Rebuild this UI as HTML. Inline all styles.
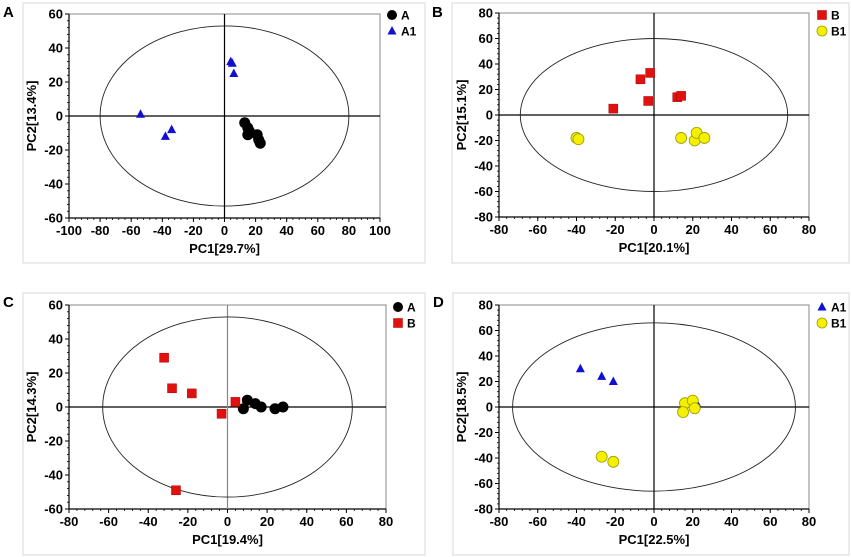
<!DOCTYPE html>
<html><head><meta charset="utf-8"><style>
body{margin:0;background:#fff;}
svg{display:block;font-family:"Liberation Sans",sans-serif;}
</style></head><body>
<svg id="s" width="851" height="557" viewBox="0 0 851 557"></svg>
<script>
const aCirc=[[13,-4],[15,-7],[16,-9],[15,-11],[21,-11],[22,-14],[23,-16]];
const aTri=[[4,32],[5,31],[6,25],[-54,1],[-38,-12],[-34,-8]];
const bSq=[[-21,5],[-7,28],[-2,33],[-3,11],[12,14],[14,15]];
const bYel=[[-40,-18],[-39,-19],[14,-18],[21,-20],[22,-14],[26,-18]];
const cCirc=[[8,-1],[10,4],[14,2],[17,0],[24,-1],[28,0]];
const cSq=[[-32,29],[-28,11],[-18,8],[-3,-4],[4,3],[-26,-49]];
const dTri=[[-38,30],[-27,24],[-21,20],[20,5],[22,3]];
const dYel=[[16,3],[20,5],[15,-4],[21,-1],[-27,-39],[-21,-43]];
const xTicksA=[-100,-80,-60,-40,-20,0,20,40,60,80,100];
const xTicks80=[-80,-60,-40,-20,0,20,40,60,80];
const yTicks60=[-60,-40,-20,0,20,40,60];
const yTicks80=[-80,-60,-40,-20,0,20,40,60,80];
const NS="http://www.w3.org/2000/svg";
const svg=document.getElementById('s');
function mk(p,t,a){const e=document.createElementNS(NS,t);for(const k in a)e.setAttribute(k,a[k]);p.appendChild(e);return e;}
const panels=[
 {id:'a',L:'A',frame:[23,3,402,260],pl:[69,380,14,218],x:[-100,100],y:[-60,60],xt:xTicksA,yt:yTicks60,ex:80,ey:53,xl:'PC1[29.7%]',yl:'PC2[13.4%]',vgray:false,
  series:[{d:aCirc,m:'circle',c:'#000',n:'A'},{d:aTri,m:'tri',c:'#1010d0',n:'A1'}],lg:[392,15]},
 {id:'b',L:'B',frame:[452,3,397,260],pl:[499,809,13,217],x:[-80,80],y:[-80,80],xt:xTicks80,yt:yTicks80,ex:69,ey:60,xl:'PC1[20.1%]',yl:'PC2[15.1%]',vgray:false,
  series:[{d:bSq,m:'sq',c:'#e31010',n:'B'},{d:bYel,m:'ycirc',c:'#f5f000',n:'B1'}],lg:[822,15]},
 {id:'c',L:'C',frame:[23,293,402,262],pl:[69,386,305,509],x:[-80,80],y:[-60,60],xt:xTicks80,yt:yTicks60,ex:63,ey:53,xl:'PC1[19.4%]',yl:'PC2[14.3%]',vgray:true,
  series:[{d:cCirc,m:'circle',c:'#000',n:'A'},{d:cSq,m:'sq',c:'#e31010',n:'B'}],lg:[398,307]},
 {id:'d',L:'D',frame:[453,293,396,262],pl:[499,809,305,509],x:[-80,80],y:[-80,80],xt:xTicks80,yt:yTicks80,ex:73,ey:66,xl:'PC1[22.5%]',yl:'PC2[18.5%]',vgray:false,
  series:[{d:dTri,m:'tri',c:'#1010d0',n:'A1'},{d:dYel,m:'ycirc',c:'#f5f000',n:'B1'}],lg:[822,307]}
];
function marker(g,m,cx,cy,c,r){
 if(m==='circle')return mk(g,'circle',{cx,cy,r:r||5.5,fill:c});
 if(m==='ycirc')return mk(g,'circle',{cx,cy,r:r||5.5,fill:c,stroke:'#9a9a00','stroke-width':0.8});
 if(m==='sq')return mk(g,'rect',{x:cx-4.5,y:cy-4.5,width:9,height:9,fill:c,stroke:'#a00','stroke-width':0.5});
 return mk(g,'polygon',{points:`${cx},${cy-5} ${cx-4.5},${cy+3.5} ${cx+4.5},${cy+3.5}`,fill:c});
}
panels.forEach(P=>{
 const g=mk(svg,'g',{});
 
 
 const [x0,x1,y0,y1]=P.pl;
 const sx=v=>x0+(v-P.x[0])/(P.x[1]-P.x[0])*(x1-x0);
 const sy=v=>y1-(v-P.y[0])/(P.y[1]-P.y[0])*(y1-y0);
 const fr=mk(g,'rect',{x:P.frame[0],y:P.frame[1],width:P.frame[2],height:P.frame[3],fill:'none',stroke:'#d8d8d8','stroke-width':1});
 
 
 const lbl=mk(g,'text',{x:P.frame[0]-20,y:P.frame[1]+14,'font-size':15,'font-weight':'bold'});
 lbl.textContent=P.L;
 
 
 const pa=mk(g,'rect',{x:x0,y:y0,width:x1-x0,height:y1-y0,fill:'none',stroke:'#888','stroke-width':1});
 
 
 mk(g,'line',{x1:x0,y1:y0,x2:x0,y2:y1,stroke:'#000','stroke-width':1.2});
 mk(g,'line',{x1:x0,y1:y1,x2:x1,y2:y1,stroke:'#000','stroke-width':1.2});
 // minor ticks
 const xs=(P.xt[1]-P.xt[0])/5, ys=(P.yt[1]-P.yt[0])/5;
 for(let v=P.x[0];v<=P.x[1]+1e-6;v+=xs)mk(g,'line',{x1:sx(v),y1:y1,x2:sx(v),y2:y1+2,stroke:'#000','stroke-width':0.8});
 for(let v=P.y[0];v<=P.y[1]+1e-6;v+=ys)mk(g,'line',{x1:x0-2,y1:sy(v),x2:x0,y2:sy(v),stroke:'#000','stroke-width':0.8});
 P.xt.forEach(v=>{
  mk(g,'line',{x1:sx(v),y1:y1,x2:sx(v),y2:y1+4,stroke:'#000','stroke-width':1});
  const t=mk(g,'text',{x:sx(v),y:y1+17,'font-size':13,'font-weight':'bold','text-anchor':'middle'});t.textContent=v;
  
  
 });
 P.yt.forEach(v=>{
  mk(g,'line',{x1:x0-4,y1:sy(v),x2:x0,y2:sy(v),stroke:'#000','stroke-width':1});
  const t=mk(g,'text',{x:x0-6,y:sy(v)+4.5,'font-size':13,'font-weight':'bold','text-anchor':'end'});t.textContent=v;
  
  
 });
 const xt=mk(g,'text',{x:(x0+x1)/2,y:y1+35,'font-size':13,'font-weight':'bold','text-anchor':'middle'});xt.textContent=P.xl;
 
 
 const yx=x0-33, yy=(y0+y1)/2;
 const yt=mk(g,'text',{x:yx,y:yy,'font-size':13,'font-weight':'bold','text-anchor':'middle',transform:`rotate(-90 ${yx} ${yy})`});yt.textContent=P.yl;
 
 
 // zero lines
 mk(g,'line',{x1:x0,y1:sy(0),x2:x1,y2:sy(0),stroke:'#000','stroke-width':1.2});
 mk(g,'line',{x1:sx(0),y1:y0,x2:sx(0),y2:y1,stroke:P.vgray?'#888':'#000','stroke-width':1.2});
 const el=mk(g,'ellipse',{cx:sx(0),cy:sy(0),rx:sx(P.ex)-sx(0),ry:sy(0)-sy(P.ey),fill:'none',stroke:'#222','stroke-width':0.9});
 
 
 P.series.forEach((S,i)=>{
  S.d.forEach(p=>{
   const m=marker(g,S.m,sx(p[0]),sy(p[1]),S.c);
   
   
  });
  const ly=P.lg[1]+i*16;
  const lm=marker(g,S.m,P.lg[0],ly,S.c,S.m==='circle'||S.m==='ycirc'?5:undefined);
  
  
  const lt=mk(g,'text',{x:P.lg[0]+9,y:ly+4.5,'font-size':12,'font-weight':'bold'});lt.textContent=S.n;
  
  
 });
});
</script>
</body></html>
